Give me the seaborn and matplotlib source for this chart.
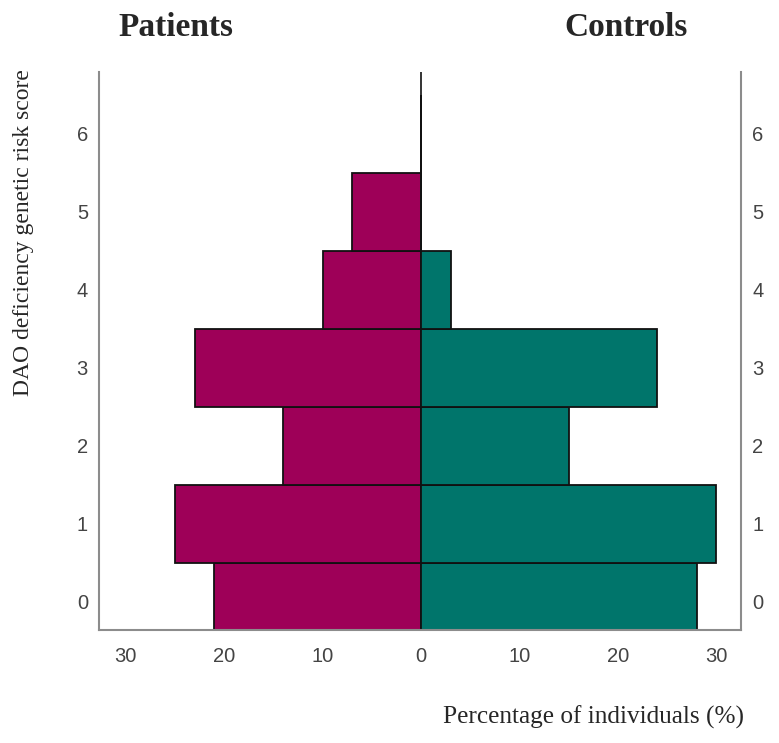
import matplotlib
matplotlib.use("Agg")
import matplotlib.pyplot as plt
import seaborn as sns
import pandas as pd

# Data
scores = [0, 1, 2, 3, 4, 5, 6]
patients_pct = [21, 25, 14, 23, 10, 7, 0]
controls_pct = [28, 30, 15, 24, 3, 0, 0]
xtick_vals = [-30, -20, -10, 0, 10, 20, 30]
xtick_labels = ["30", "20", "10", "0", "10", "20", "30"]
ytick_vals = [0, 1, 2, 3, 4, 5, 6]

patient_color = "#9E0058"
control_color = "#00756B"

sns.set_theme(style="white")
plt.rcParams['font.family'] = ['Liberation Sans', 'DejaVu Sans']

fig = plt.figure(figsize=(7.79, 7.43), dpi=100)
ax = fig.add_axes([99/779, (743-630)/743, (741-99)/779, (630-72)/743])

df_p = pd.DataFrame({"score": scores, "pct": [-v for v in patients_pct]})
df_c = pd.DataFrame({"score": scores, "pct": controls_pct})

sns.barplot(data=df_p, x="pct", y="score", orient="h", native_scale=True,
            width=1.0, color=patient_color, saturation=1, edgecolor="#111111",
            linewidth=1.3, ax=ax)
sns.barplot(data=df_c, x="pct", y="score", orient="h", native_scale=True,
            width=1.0, color=control_color, saturation=1, edgecolor="#111111",
            linewidth=1.3, ax=ax)

ax.axvline(0, color="#333333", lw=1.4, zorder=0.5)

ax.set_xlim(-32.7, 32.5)
ax.set_ylim(-0.36, 6.79)
ax.set_xticks(xtick_vals)
ax.set_xticklabels(xtick_labels)
ax.set_yticks(ytick_vals)
ax.set_yticklabels([str(v) for v in ytick_vals])
ax.tick_params(axis="both", which="both", length=0, labelsize=14.5,
               labelcolor="#444444")
ax.tick_params(axis="x", pad=12)
ax.tick_params(axis="y", labelright=True, right=False, left=False, pad=8)
ax.set_xlabel("")
ax.set_ylabel("")

for side in ["left", "right", "bottom"]:
    ax.spines[side].set_visible(True)
    ax.spines[side].set_color("#8c8c8c")
    ax.spines[side].set_linewidth(1.5)
ax.spines["top"].set_visible(False)

fig.text(176/779, 1 - 27/743, "Patients", ha="center", va="center",
         fontsize=24, fontweight="bold", family=["Liberation Serif"])
fig.text(626/779, 1 - 27/743, "Controls", ha="center", va="center",
         fontsize=24, fontweight="bold", family=["Liberation Serif"])
fig.text(24/779, 1 - 233/743, "DAO deficiency genetic risk score", ha="center",
         va="center", rotation=90, fontsize=17, family=["Liberation Serif"])
fig.text(744/779, 1 - 717/743, "Percentage of individuals (%)", ha="right",
         va="center", fontsize=18.2, family=["Liberation Serif"])

fig.savefig("out.png", dpi=100)
